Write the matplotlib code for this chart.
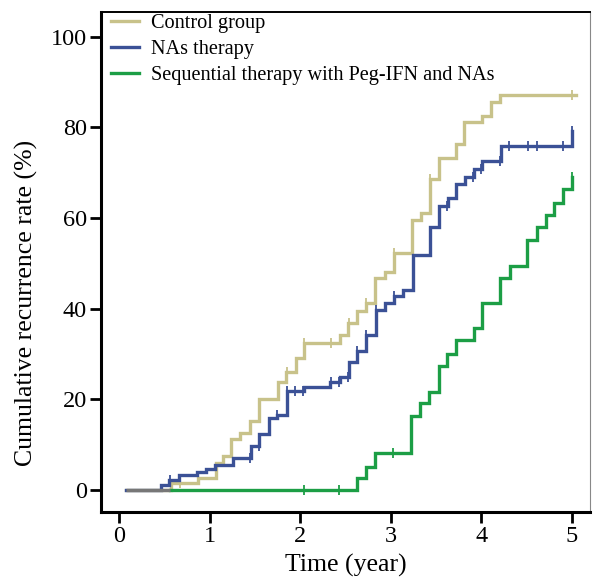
import matplotlib
matplotlib.use("Agg")
import matplotlib.pyplot as plt
import numpy as np

# step curves: event times (year) and cumulative recurrence (%)
ctrl_t = [0.08, 0.57, 0.87, 1.07, 1.15, 1.24, 1.34, 1.45, 1.54, 1.75, 1.84, 1.95, 2.04,
          2.44, 2.53, 2.63, 2.73, 2.83, 2.94, 3.04, 3.23, 3.33, 3.43, 3.53, 3.72, 3.81,
          4.01, 4.11, 4.21, 5.05]
ctrl_v = [0, 1.4, 2.6, 6.0, 7.4, 11.2, 12.5, 15.2, 20.0, 23.9, 26.1, 29.0, 32.4,
          34.2, 36.8, 39.4, 41.2, 46.7, 48.2, 52.2, 59.6, 61.2, 68.6, 73.2, 76.4, 81.2,
          82.6, 85.6, 87.2, 87.2]
ctrl_cens = [0.67, 1.85, 2.04, 2.34, 2.54, 2.73, 3.04, 3.43, 5.0]

nas_t = [0.08, 0.46, 0.55, 0.66, 0.86, 0.96, 1.06, 1.26, 1.46, 1.55, 1.65, 1.74, 1.85,
         2.04, 2.33, 2.44, 2.54, 2.63, 2.73, 2.84, 2.94, 3.04, 3.13, 3.24, 3.43, 3.53,
         3.63, 3.72, 3.82, 3.92, 4.01, 4.22, 5.0, 5.0]
nas_v = [0, 1.1, 2.2, 3.3, 3.9, 4.6, 5.5, 7.0, 9.6, 12.3, 15.8, 16.6, 21.8,
         22.7, 23.7, 24.8, 28.3, 30.7, 34.2, 39.7, 41.2, 42.7, 44.2, 51.9, 58.1, 62.6,
         64.4, 67.5, 69.0, 70.8, 72.5, 75.9, 79.2, 79.2]
nas_cens = [0.56, 1.45, 1.54, 1.74, 1.85, 1.94, 2.03, 2.34, 2.43, 2.53, 2.63, 2.73,
            2.84, 3.04, 3.62, 3.91, 4.0, 4.21, 4.31, 4.51, 4.61, 4.90, 5.0]

seq_t = [0.56, 2.63, 2.73, 2.83, 3.22, 3.32, 3.42, 3.53, 3.62, 3.72, 3.92, 4.01, 4.21,
         4.32, 4.50, 4.61, 4.71, 4.80, 4.90, 5.0, 5.0]
seq_v = [0, 2.7, 5.1, 8.1, 16.3, 19.1, 21.7, 27.4, 30.0, 33.0, 35.7, 41.3, 46.7,
         49.5, 55.2, 58.0, 60.7, 63.4, 66.4, 69.0, 69.0]
seq_cens = [2.04, 2.43, 3.02, 5.0]

common_t = [0.08, 0.56]
common_v = [0, 0]

labels = ["Control group", "NAs therapy", "Sequential therapy with Peg-IFN and NAs"]
colors = ["#c8c28a", "#3b5196", "#1c9e45"]

plt.rcParams['font.family'] = ['Liberation Serif', 'DejaVu Serif']
fig = plt.figure(figsize=(5.93, 5.79), dpi=100)
ax = fig.add_axes([101/593, 1-512/579, 489/593, 500/579])

def at(t, v, c):
    idx = np.searchsorted(t, c, side='right') - 1
    return np.array(v)[np.clip(idx, 0, len(v)-1)]

series = [(ctrl_t, ctrl_v, ctrl_cens), (nas_t, nas_v, nas_cens), (seq_t, seq_v, seq_cens)]
for (t, v, cens), lab, col in zip(series, labels, colors):
    ax.step(t, v, where='post', color=col, lw=2.4, label=lab, solid_joinstyle='miter')
    ax.plot(cens, at(t, v, cens), ls='none', marker='|', ms=7, mew=1.3, color=col)

ax.plot(common_t, common_v, color='#777777', lw=2.4, solid_capstyle='butt')

ax.set_xlim(-0.2, 5.2)
ax.set_ylim(-4.9, 105.5)
ax.set_xticks(range(6))
ax.set_yticks(range(0, 101, 20))
ax.tick_params(labelsize=17.5, length=8, width=2, direction='out', pad=2)
for s in ['left', 'bottom']:
    ax.spines[s].set_linewidth(2.2)
ax.spines['top'].set_linewidth(1.4)
ax.spines['right'].set_linewidth(0.8)
ax.spines['right'].set_color('#888888')

ax.set_xlabel("Time (year)", fontsize=18.5, labelpad=5)
ax.set_ylabel("Cumulative recurrence rate (%)", fontsize=18.5)
ax.yaxis.set_label_coords(-0.128, 0.418)

leg = ax.legend(loc='upper left', frameon=False, fontsize=14.6, handlelength=1.4,
                handletextpad=0.6, labelspacing=0.35, borderaxespad=0.0,
                bbox_to_anchor=(0.003, 1.013))

fig.savefig("out.png", dpi=100)
